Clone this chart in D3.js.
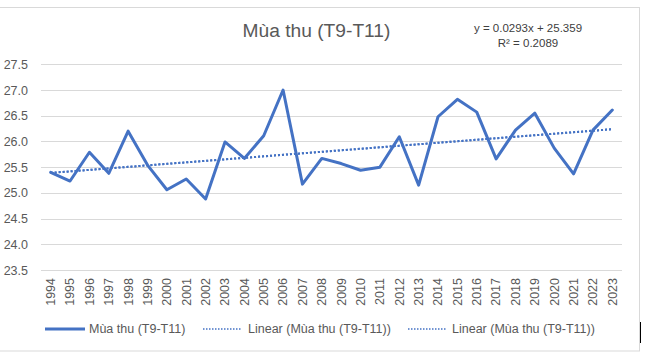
<!DOCTYPE html>
<html>
<head>
<meta charset="utf-8">
<script src="https://cdn.jsdelivr.net/npm/d3@7"></script>
<style>
  html, body { margin: 0; padding: 0; background: #fff; }
  svg { display: block; font-family: "Liberation Sans", Arial, sans-serif; }
</style>
</head>
<body>
<svg id="chart" width="647" height="357"></svg>
<script>
// ---- data ----
const years = [1994,1995,1996,1997,1998,1999,2000,2001,2002,2003,2004,2005,2006,2007,2008,
               2009,2010,2011,2012,2013,2014,2015,2016,2017,2018,2019,2020,2021,2022,2023];
const values = [25.40,25.23,25.79,25.38,26.20,25.54,25.06,25.27,24.88,25.99,25.67,26.11,27.00,25.17,25.67,
                25.57,25.44,25.50,26.09,25.15,26.48,26.82,26.57,25.66,26.22,26.55,25.87,25.37,26.22,26.61];
const yTicks = [23.5,24.0,24.5,25.0,25.5,26.0,26.5,27.0,27.5];
const trendSlope = 0.0293;
const trendIntercept = 25.359;
const trendR2 = 0.2089;
const titleText = "Mùa thu (T9-T11)";
const seriesName = "Mùa thu (T9-T11)";
const legendLabels = [seriesName, "Linear (Mùa thu (T9-T11))", "Linear (Mùa thu (T9-T11))"];

// ---- layout ----
const svg = d3.select("#chart");
const blue = "#4472C4";
const textGray = "#595959";

// chart border
svg.append("rect")
  .attr("x", -1).attr("y", 7.5).attr("width", 640.5).attr("height", 343.5)
  .attr("fill", "none").attr("stroke", "#d9d9d9").attr("stroke-width", 1);

const x = d3.scaleBand().domain(years).range([41, 622]);
const cx = d => x(d) + x.bandwidth() / 2;
const y = d3.scaleLinear().domain([23.5, 27.5]).range([270, 64.3]);

// gridlines
svg.append("g").selectAll("line").data(yTicks).join("line")
  .attr("x1", 41).attr("x2", 622)
  .attr("y1", d => Math.round(y(d)) + 0.5).attr("y2", d => Math.round(y(d)) + 0.5)
  .attr("stroke", "#d9d9d9").attr("stroke-width", 1);

// y axis labels
const yAxis = d3.axisLeft(y).tickValues(yTicks).tickFormat(d3.format(".1f")).tickSize(0).tickPadding(0);
const yg = svg.append("g").attr("transform", "translate(28,0)").call(yAxis);
yg.select(".domain").remove();
yg.selectAll("text").attr("fill", textGray).attr("font-size", "12.5px")
  .attr("font-family", "'Liberation Sans', Arial, sans-serif");

// x axis labels (rotated)
const xAxis = d3.axisBottom(x).tickSize(0).tickPadding(0);
const xg = svg.append("g").attr("transform", "translate(0,278)").call(xAxis);
xg.select(".domain").remove();
xg.selectAll("text")
  .attr("fill", textGray).attr("font-size", "12.5px")
  .attr("font-family", "'Liberation Sans', Arial, sans-serif")
  .attr("text-anchor", "end")
  .attr("dy", "0.35em")
  .attr("y", 0).attr("x", 0)
  .attr("transform", "rotate(-90)");

// trendlines (two identical)
const trendPts = years.map((yr, i) => [cx(yr), y(trendIntercept + trendSlope * (i + 1))]);
const lineGen = d3.line();
for (let k = 0; k < 2; k++) {
  svg.append("path").attr("d", lineGen(trendPts))
    .attr("fill", "none").attr("stroke", blue).attr("stroke-width", 2)
    .attr("stroke-dasharray", "2,2");
}

// main series
const seriesLine = d3.line().x((d, i) => cx(years[i])).y(d => y(d));
svg.append("path").datum(values).attr("d", seriesLine)
  .attr("fill", "none").attr("stroke", blue).attr("stroke-width", 3)
  .attr("stroke-linejoin", "round").attr("stroke-linecap", "round");

// title
svg.append("text").attr("x", 316.5).attr("y", 37).attr("text-anchor", "middle")
  .attr("fill", textGray).attr("font-size", "19.2px").text(titleText);

// equation
svg.append("text").attr("x", 528).attr("y", 31.7).attr("text-anchor", "middle")
  .attr("fill", "#404040").attr("font-size", "11.5px")
  .text("y = " + trendSlope + "x + " + trendIntercept);
svg.append("text").attr("x", 528).attr("y", 47).attr("text-anchor", "middle")
  .attr("fill", "#404040").attr("font-size", "11.5px")
  .text("R² = " + trendR2);

// legend
const legendItems = [
  { label: legendLabels[0], x0: 45, x1: 85, tx: 89, solid: true },
  { label: legendLabels[1], x0: 203, x1: 242, tx: 248, solid: false },
  { label: legendLabels[2], x0: 408, x1: 446, tx: 452, solid: false }
];
const lg = svg.append("g");
legendItems.forEach(it => {
  lg.append("line").attr("x1", it.x0).attr("x2", it.x1).attr("y1", 329).attr("y2", 329)
    .attr("stroke", blue).attr("stroke-width", it.solid ? 3 : 1.5)
    .attr("stroke-dasharray", it.solid ? null : "1.5,1.5");
  lg.append("text").attr("x", it.tx).attr("y", 329).attr("dy", "0.35em")
    .attr("fill", textGray).attr("font-size", "12.5px").text(it.label);
});

// small cursor mark at right edge
svg.append("line").attr("x1", 640.5).attr("x2", 640.5).attr("y1", 322).attr("y2", 343)
  .attr("stroke", "#000").attr("stroke-width", 1);
</script>
</body>
</html>
